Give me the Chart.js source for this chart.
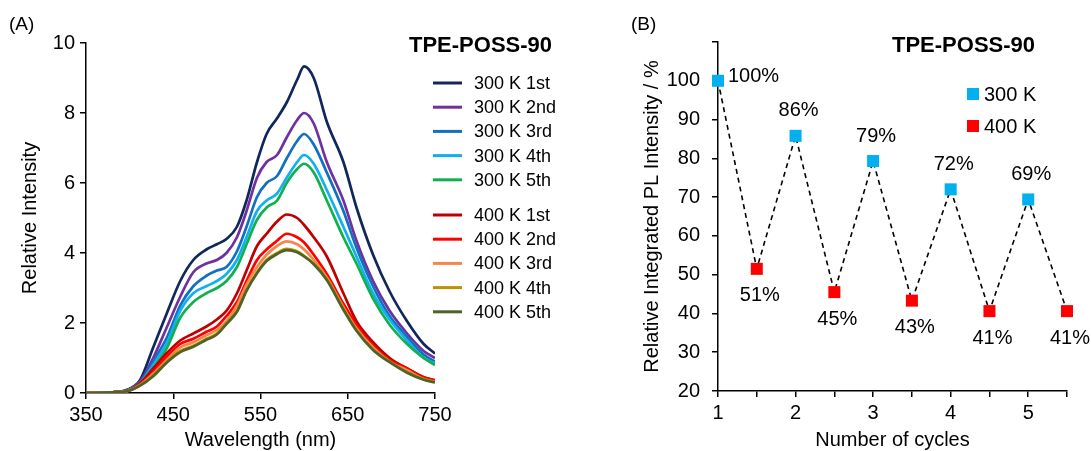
<!DOCTYPE html>
<html>
<head>
<meta charset="utf-8">
<script src="https://cdn.jsdelivr.net/npm/chart.js@4.4.1/dist/chart.umd.min.js"></script>
<style>
  body { margin: 0; background: #fff; }
  #wrap { position: relative; width: 1091px; height: 451px; }
  #specChart { position: absolute; left: 0; top: 0; }
  #cycleChart { position: absolute; left: 600px; top: 0; }
</style>
</head>
<body>
<div id="wrap">
  <canvas id="specChart" width="600" height="451"></canvas>
  <canvas id="cycleChart" width="491" height="451"></canvas>
</div>
<script>
const FONT = "'Liberation Sans', Arial, sans-serif";

// (A) emission spectra
const wavelengths = [350, 380, 397, 412, 427, 443, 458, 473, 488, 500, 511, 523, 534, 546, 557, 569, 580, 592, 600, 611, 626, 645, 660, 679, 698, 718, 737, 750];

const pl300_1st = [0, 0.02, 0.09, 0.37, 1.3, 2.3, 3.2, 3.8, 4.1, 4.25, 4.4, 4.75, 5.5, 6.6, 7.4, 7.85, 8.3, 8.95, 9.33, 9.0, 7.75, 6.6, 5.3, 3.95, 2.9, 2.05, 1.4, 1.13];
const pl300_2nd = [0, 0.02, 0.08, 0.33, 1.0, 1.9, 2.75, 3.45, 3.7, 3.8, 4.0, 4.45, 5.2, 6.15, 6.6, 6.8, 7.3, 7.8, 8.0, 7.7, 6.6, 5.5, 4.35, 3.2, 2.35, 1.7, 1.2, 1.0];
const pl300_3rd = [0, 0.02, 0.07, 0.3, 0.9, 1.6, 2.5, 3.05, 3.35, 3.5, 3.6, 4.05, 4.75, 5.6, 6.0, 6.2, 6.7, 7.2, 7.4, 7.1, 6.3, 5.2, 4.15, 3.05, 2.2, 1.6, 1.1, 0.9];
const pl300_4th = [0, 0.02, 0.07, 0.28, 0.8, 1.45, 2.35, 2.85, 3.05, 3.2, 3.4, 3.8, 4.45, 5.2, 5.5, 5.7, 6.15, 6.6, 6.8, 6.55, 5.8, 4.75, 3.9, 2.85, 2.1, 1.5, 1.0, 0.85];
const pl300_5th = [0, 0.02, 0.06, 0.25, 0.7, 1.3, 2.15, 2.6, 2.85, 3.0, 3.2, 3.6, 4.25, 4.95, 5.3, 5.5, 6.0, 6.4, 6.55, 6.3, 5.5, 4.45, 3.7, 2.7, 1.95, 1.4, 1.0, 0.8];
const pl400_1st = [0, 0.02, 0.06, 0.28, 0.7, 1.15, 1.5, 1.7, 1.9, 2.1, 2.35, 2.85, 3.5, 4.2, 4.55, 4.9, 5.1, 5.0, 4.8, 4.45, 3.9, 2.85, 2.05, 1.45, 1.0, 0.7, 0.45, 0.37];
const pl400_2nd = [0, 0.02, 0.05, 0.25, 0.6, 1.05, 1.4, 1.55, 1.75, 1.9, 2.2, 2.6, 3.2, 3.8, 4.1, 4.35, 4.55, 4.45, 4.3, 3.95, 3.4, 2.55, 1.95, 1.35, 0.95, 0.7, 0.45, 0.35];
const pl400_3rd = [0, 0.02, 0.05, 0.23, 0.55, 0.95, 1.3, 1.45, 1.65, 1.8, 2.05, 2.5, 3.1, 3.6, 3.95, 4.2, 4.33, 4.25, 4.1, 3.8, 3.3, 2.45, 1.85, 1.3, 0.9, 0.65, 0.4, 0.32];
const pl400_4th = [0, 0.02, 0.05, 0.22, 0.5, 0.9, 1.2, 1.35, 1.55, 1.7, 2.0, 2.35, 2.95, 3.45, 3.8, 4.0, 4.12, 4.05, 3.92, 3.7, 3.25, 2.4, 1.8, 1.25, 0.9, 0.6, 0.4, 0.32];
const pl400_5th = [0, 0.02, 0.05, 0.21, 0.48, 0.88, 1.17, 1.32, 1.52, 1.67, 1.97, 2.32, 2.92, 3.42, 3.77, 3.97, 4.08, 4.02, 3.9, 3.68, 3.23, 2.38, 1.78, 1.23, 0.88, 0.58, 0.38, 0.3];

const specLabels = ['300 K 1st', '300 K 2nd', '300 K 3rd', '300 K 4th', '300 K 5th',
                    '400 K 1st', '400 K 2nd', '400 K 3rd', '400 K 4th', '400 K 5th'];
const specSeries = [pl300_1st, pl300_2nd, pl300_3rd, pl300_4th, pl300_5th,
                    pl400_1st, pl400_2nd, pl400_3rd, pl400_4th, pl400_5th];
const specColors = ['#10275c', '#7030a0', '#1170c0', '#12b0f0', '#10b050',
                    '#c00000', '#ff0000', '#f4874b', '#bf9000', '#4f6228'];
const wlTicks = [350, 450, 550, 650, 750];

// (B) cycling
const cycles300 = [1, 2, 3, 4, 5];
const intensity300 = [100, 85.8, 79.3, 72.0, 69.4];
const labels300 = ['100%', '86%', '79%', '72%', '69%'];
const cycles400 = [1.5, 2.5, 3.5, 4.5, 5.5];
const intensity400 = [51.5, 45.5, 43.3, 40.6, 40.6];
const labels400 = ['51%', '45%', '43%', '41%', '41%'];

function fixWidth(w) { return s => { s.width = w; }; }
function fixHeight(h) { return s => { s.height = h; }; }

const axisCommon = {
    border: { display: true, color: '#000', width: 1.5 },
    grid: { drawOnChartArea: false, drawTicks: true, tickLength: 6, color: '#000', lineWidth: 1.5 },
};

const specLegend = {
    id: 'specLegend',
    afterDraw(chart) {
        const ctx = chart.ctx;
        ctx.save();
        ctx.fillStyle = '#000';
        ctx.font = 'bold 22px ' + FONT;
        ctx.textBaseline = 'middle';
        ctx.fillText('TPE-POSS-90', 409, 46);
        ctx.font = '18px ' + FONT;
        specLabels.forEach((lab, i) => {
            const y = 83 + i * 24.2 + (i >= 5 ? 11 : 0);
            ctx.strokeStyle = specColors[i];
            ctx.lineWidth = 3;
            ctx.beginPath();
            ctx.moveTo(433, y);
            ctx.lineTo(462, y);
            ctx.stroke();
            ctx.fillText(lab, 474, y + 1);
        });
        ctx.font = '19px ' + FONT;
        ctx.fillText('(A)', 9, 25);
        ctx.restore();
    }
};

new Chart(document.getElementById('specChart'), {
    type: 'line',
    data: {
        datasets: specSeries.map((vals, i) => ({
            label: specLabels[i],
            data: wavelengths.map((w, j) => ({ x: w, y: vals[j] })),
            borderColor: specColors[i],
            borderWidth: 2.7,
            pointRadius: 0,
            cubicInterpolationMode: 'monotone',
            fill: false
        })).reverse()
    },
    options: {
        responsive: false,
        animation: false,
        devicePixelRatio: 1,
        layout: { padding: { left: 0, right: 165, top: 43, bottom: 0 } },
        plugins: { legend: { display: false }, tooltip: { enabled: false } },
        scales: {
            x: {
                type: 'linear', min: 350, max: 750,
                afterBuildTicks: s => { s.ticks = wlTicks.map(v => ({ value: v })); },
                afterFit: fixHeight(58),
                ticks: { color: '#000', font: { family: FONT, size: 20 }, padding: 4, maxRotation: 0 },
                title: { display: true, text: 'Wavelength (nm)', color: '#000', font: { family: FONT, size: 20 }, padding: { bottom: -1 } },
                ...axisCommon
            },
            y: {
                min: 0, max: 10,
                afterFit: fixWidth(86),
                ticks: { stepSize: 2, color: '#000', font: { family: FONT, size: 20 }, padding: 5 },
                title: { display: true, text: 'Relative Intensity', color: '#000', font: { family: FONT, size: 20 }, padding: { top: 18 } },
                ...axisCommon
            }
        }
    },
    plugins: [specLegend]
});

const cycleLabels = {
    id: 'cycleLabels',
    afterDraw(chart) {
        const ctx = chart.ctx;
        const xs = chart.scales.x, ys = chart.scales.y;
        ctx.save();
        ctx.fillStyle = '#000';
        ctx.font = '20px ' + FONT;
        ctx.textBaseline = 'middle';
        cycles300.forEach((c, i) => {
            const px = xs.getPixelForValue(c), py = ys.getPixelForValue(intensity300[i]);
            if (i === 0) {
                ctx.textAlign = 'left';
                ctx.fillText(labels300[i], px + 10, py - 4);
            } else {
                ctx.textAlign = 'center';
                ctx.fillText(labels300[i], px + 3, py - 25);
            }
        });
        ctx.textAlign = 'center';
        cycles400.forEach((c, i) => {
            const px = xs.getPixelForValue(c), py = ys.getPixelForValue(intensity400[i]);
            ctx.fillText(labels400[i], px + 3, py + 27);
        });
        // title + legend
        ctx.textAlign = 'left';
        ctx.font = 'bold 22px ' + FONT;
        ctx.fillText('TPE-POSS-90', 292, 46);
        ctx.font = '20px ' + FONT;
        [['300 K', '#00b0f0', 94], ['400 K', '#ff0000', 126]].forEach(([t, col, y]) => {
            ctx.fillStyle = col;
            ctx.fillRect(367, y - 6, 12, 12);
            ctx.fillStyle = '#000';
            ctx.fillText(t, 384, y + 1);
        });
        ctx.font = '19px ' + FONT;
        ctx.fillText('(B)', 31, 25);
        ctx.restore();
    }
};

// dashed connecting line, in cycle order
const allCycles = [], allIntensity = [];
cycles300.forEach((c, i) => {
    allCycles.push(c, cycles400[i]);
    allIntensity.push(intensity300[i], intensity400[i]);
});

new Chart(document.getElementById('cycleChart'), {
    type: 'scatter',
    data: {
        datasets: [
            {
                label: '300 K',
                data: cycles300.map((c, i) => ({ x: c, y: intensity300[i] })),
                pointStyle: 'rect', pointRadius: 8.5, pointBackgroundColor: '#00b0f0', pointBorderWidth: 0,
                clip: false
            },
            {
                label: '400 K',
                data: cycles400.map((c, i) => ({ x: c, y: intensity400[i] })),
                pointStyle: 'rect', pointRadius: 8.5, pointBackgroundColor: '#ff0000', pointBorderWidth: 0,
                clip: false
            },
            {
                label: 'trend',
                type: 'line',
                data: allCycles.map((c, i) => ({ x: c, y: allIntensity[i] })),
                borderColor: '#000', borderWidth: 1.6, borderDash: [5, 4],
                pointRadius: 0, tension: 0, fill: false
            }
        ]
    },
    options: {
        responsive: false,
        animation: false,
        devicePixelRatio: 1,
        layout: { padding: { left: 0, right: 24, top: 42, bottom: 0 } },
        plugins: { legend: { display: false }, tooltip: { enabled: false } },
        scales: {
            x: {
                type: 'linear', min: 1, max: 5.5,
                afterFit: fixHeight(60),
                ticks: {
                    stepSize: 0.5, color: '#000', font: { family: FONT, size: 20 }, padding: 4, maxRotation: 0, autoSkip: false,
                    callback: v => Number.isInteger(v) ? String(v) : ''
                },
                title: { display: true, text: 'Number of cycles', color: '#000', font: { family: FONT, size: 20 }, padding: { bottom: -1 } },
                ...axisCommon
            },
            y: {
                min: 20, max: 110,
                afterFit: fixWidth(118),
                ticks: {
                    stepSize: 10, color: '#000', font: { family: FONT, size: 20 }, padding: 12,
                    callback: v => v === 110 ? '' : String(v)
                },
                title: { display: true, text: 'Relative Integrated PL Intensity / %', color: '#000', font: { family: FONT, size: 20 }, padding: { top: 40 } },
                ...axisCommon
            }
        }
    },
    plugins: [cycleLabels]
});
</script>
</body>
</html>
